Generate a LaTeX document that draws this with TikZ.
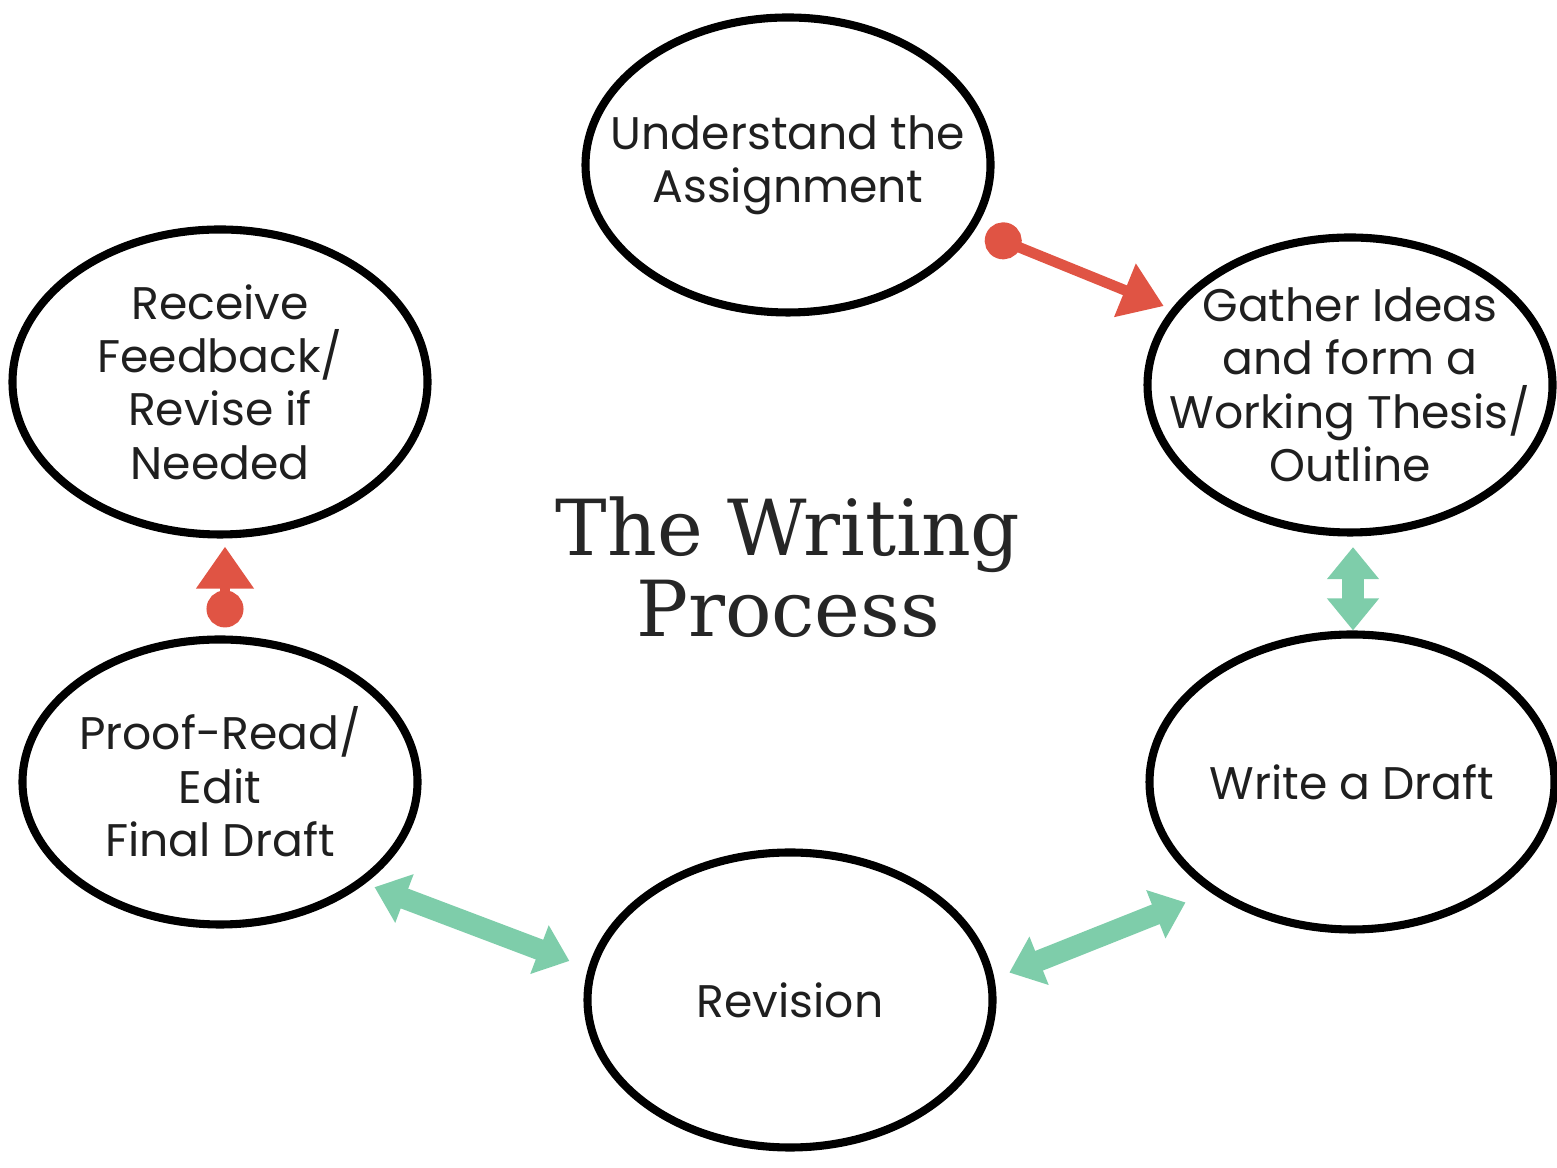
\documentclass[tikz,border=0pt]{standalone}
\usepackage{fontspec}
\setmainfont{Poppins}
\newfontfamily\titlefont{DejaVu Serif}
\usepackage{tikz}
\usetikzlibrary{shapes.geometric}
\usetikzlibrary{arrows.meta}
\usetikzlibrary{positioning}
\definecolor{stepred}{RGB}{224,84,68}
\definecolor{stepgreen}{RGB}{126,205,170}
\tikzset{phase/.style={ellipse,draw,line width=2.3pt,minimum width=4.05cm,minimum height=2.95cm,align=center,inner sep=-1.2cm,text=black!88,font=\fontsize{13}{15.2}\selectfont},
redlink/.style={stepred,line width=3pt,{Circle[length=0.37cm]}-{Triangle[length=0.42cm,width=0.55cm]}},
greenlink/.style={stepgreen,line width=6pt,{Triangle[length=0.32cm,width=0.5cm]}-{Triangle[length=0.32cm,width=0.5cm]}}}

\begin{document}
\begin{tikzpicture}
\useasboundingbox (0,0) rectangle (15.57,11.67);

\node (und) at (7.88,10.02) [phase] {Understand the\\Assignment};
\node (gat) at (13.50,7.82) [phase] {Gather Ideas\\and form a\\Working Thesis/\\Outline};
\node (wri) at (13.52,3.85) [phase] {Write a Draft};
\node (rev) at (7.90,1.67) [phase] {Revision};
\node (pro) at (2.20,3.85) [phase,minimum width=3.95cm,minimum height=2.85cm] {Proof-Read/\\Edit\\Final Draft};
\node (rec) at (2.20,7.85) [phase,minimum width=4.15cm,minimum height=3.05cm] {Receive\\Feedback/\\Revise if\\Needed};

\node (title) at (7.88,6.00) [align=center,text=black!85,font=\titlefont\fontsize{22}{23}\selectfont] {The Writing\\Process};

\draw[redlink,shorten <=0.12cm,shorten >=0.08cm] (und.-19) -- (gat.157);
\draw[greenlink,shorten <=3pt] ([xshift=0.03cm]gat.south) -- ([xshift=0.01cm]wri.north);
\draw[greenlink,shorten <=0.27cm,shorten >=0.16cm] (wri.218) -- (rev.6);
\draw[greenlink,shorten <=0.1cm,shorten >=0.2cm] (pro.-35) -- (rev.171);
\draw[redlink,shorten <=0.08cm,shorten >=0.08cm] ([xshift=0.05cm]pro.north) -- ([xshift=0.05cm]rec.south);
\end{tikzpicture}
\end{document}
